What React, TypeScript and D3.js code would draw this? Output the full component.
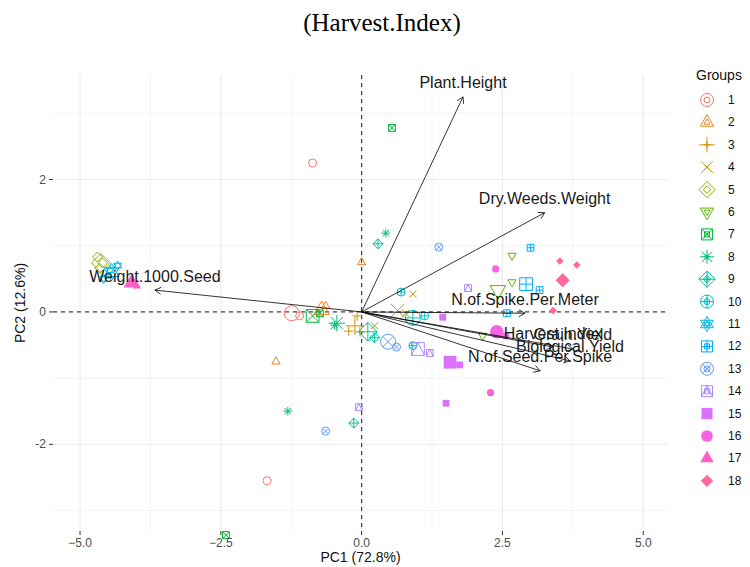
import React from 'react';
import * as d3 from 'd3';

// groups (legend order) and their colours / point shapes
const groups = ['1', '2', '3', '4', '5', '6', '7', '8', '9', '10', '11', '12', '13', '14', '15', '16', '17', '18'];
const groupColors = [
  '#F8766D', '#E88526', '#D39200', '#B79F00', '#93AA00', '#5EB300', '#00BA38', '#00BF74', '#00C19F',
  '#00BFC4', '#00B9E3', '#00ADFA', '#619CFF', '#AE87FF', '#DB72FB', '#F564E3', '#FF61C3', '#FF699C',
];

// individual scores (3 per group)
const indGroup = [
  1, 1, 1, 2, 2, 2, 3, 3, 3, 4, 4, 4, 5, 5, 5, 6, 6, 6, 7, 7, 7, 8, 8, 8, 9, 9, 9,
  10, 10, 10, 11, 11, 11, 12, 12, 12, 13, 13, 13, 14, 14, 14, 15, 15, 15, 16, 16, 16, 17, 17, 17, 18, 18, 18,
];
const indPC1 = [
  -0.87, -1.68, -1.1, 0.0, -1.52, -0.64, -0.08, -0.23, -0.03, 0.91, 0.23, 0.78, -4.69, -4.6, -4.65,
  2.67, 2.67, 2.15, 0.54, -2.41, -0.74, 0.43, -1.31, -0.48, 0.29, -0.14, 0.23, 0.7, 0.91, 1.12,
  -4.47, -4.33, -4.58, 3.0, 3.16, 2.58, 1.37, -0.64, 0.62, 1.89, -0.05, 1.21, 1.44, 1.5, 1.74,
  2.38, 2.29, 2.56, -4.15, -3.99, -4.1, 3.52, 3.82, 3.4,
];
const indPC2 = [
  2.25, -2.55, -0.06, 0.75, -0.75, 0.09, -0.06, -0.29, -0.3, 0.27, -0.21, -0.02, 0.83, 0.74, 0.66,
  0.85, 0.45, -0.36, 2.78, -3.37, -0.02, 1.19, -1.5, -0.2, 1.03, -1.68, -0.39, 0.3, -0.51, -0.06,
  0.63, 0.7, 0.5, 0.97, 0.33, -0.02, 0.98, -1.8, -0.53, 0.36, -1.44, -0.62, -0.08, -1.38, -0.8,
  0.65, -1.22, -0.36, 0.41, 0.39, 0.48, 0.77, 0.71, 0.02,
];

// group mean points
const meanPC1 = [-1.24, -0.71, -0.12, 0.64, -4.63, 2.42, -0.87, -0.44, 0.11, 0.91, -4.44, 2.92, 0.47, 1.0, 1.57, 2.4, -4.08, 3.57];
const meanPC2 = [-0.02, 0.03, -0.21, 0.02, 0.74, 0.33, -0.06, -0.17, -0.3, -0.09, 0.6, 0.42, -0.45, -0.56, -0.76, -0.3, 0.44, 0.48];

// variable loadings
const varNames = [
  'Plant.Height', 'Dry.Weeds.Weight', 'Weight.1000.Seed', 'N.of.Spike.Per.Meter',
  'Harvest.Index', 'Grain.Yield', 'Biological.Yield', 'N.of.Seed.Per.Spike',
];
const varPC1 = [1.8, 3.25, -3.67, 2.9, 3.4, 3.75, 3.7, 3.17];
const varPC2 = [3.25, 1.5, 0.33, -0.02, -0.53, -0.56, -0.74, -0.89];

const xTicks = [-5, -2.5, 0, 2.5, 5];
const xMinor = [-3.75, -1.25, 1.25, 3.75];
const yTicks = [-2, 0, 2];
const yMinor = [-3, -1, 1, 3];

const font = "'Liberation Sans', Arial, sans-serif";

const Shape = ({ pch, cx, cy, s, color }: { pch: number; cx: number; cy: number; s: number; color: string }) => {
  const r = s / 2;
  const st = { fill: 'none', stroke: color, strokeWidth: 1 };
  const fl = { fill: color, stroke: 'none' };
  const tri = (rho: number, dir: number) => {
    const h = (rho * Math.sqrt(3)) / 2;
    return `M${cx},${cy - dir * rho} L${cx + h},${cy + (dir * rho) / 2} L${cx - h},${cy + (dir * rho) / 2} Z`;
  };
  const diamond = (d: number) => `M${cx},${cy - d} L${cx + d},${cy} L${cx},${cy + d} L${cx - d},${cy} Z`;
  const plus = (d: number) => `M${cx - d},${cy} L${cx + d},${cy} M${cx},${cy - d} L${cx},${cy + d}`;
  const cross = (d: number) => `M${cx - d},${cy - d} L${cx + d},${cy + d} M${cx - d},${cy + d} L${cx + d},${cy - d}`;
  const ring = `M${cx - r},${cy} a${r},${r} 0 1,0 ${2 * r},0 a${r},${r} 0 1,0 ${-2 * r},0 `;
  const a = r * 0.85;
  const sq = `M${cx - a},${cy - a}h${2 * a}v${2 * a}h${-2 * a}Z `;
  switch (pch) {
    case 1:
      return <circle cx={cx} cy={cy} r={r} {...st} />;
    case 2:
      return <path d={tri(r * 1.2, 1)} {...st} />;
    case 3:
      return <path d={plus(r * 1.2)} {...st} />;
    case 4:
      return <path d={cross(r * 0.9)} {...st} />;
    case 5:
      return <path d={diamond(r * 1.25)} {...st} />;
    case 6:
      return <path d={tri(r * 1.2, -1)} {...st} />;
    case 7:
      return <path d={sq + cross(a)} {...st} />;
    case 8:
      return <path d={plus(r * 1.1) + ' ' + cross(r * 0.8)} {...st} />;
    case 9:
      return <path d={diamond(r * 1.25) + ' ' + plus(r * 1.25)} {...st} />;
    case 10:
      return <path d={ring + plus(r)} {...st} />;
    case 11:
      return <path d={tri(r * 1.15, 1) + ' ' + tri(r * 1.15, -1)} {...st} />;
    case 12:
      return <path d={sq + plus(a)} {...st} />;
    case 13:
      return <path d={ring + cross(r * 0.707)} {...st} />;
    case 14:
      return <path d={sq + `M${cx - a},${cy + a} L${cx},${cy - a} L${cx + a},${cy + a}`} {...st} />;
    case 15:
      return <rect x={cx - a} y={cy - a} width={2 * a} height={2 * a} {...fl} />;
    case 16:
      return <circle cx={cx} cy={cy} r={r * 0.9} {...fl} />;
    case 17:
      return <path d={tri(r * 1.2, 1)} {...fl} />;
    default:
      return <path d={diamond(r * 0.95)} {...fl} />;
  }
};

const App = () => {
  const width = 750;
  const height = 567;
  const x = d3.scaleLinear().domain([-5.48, 5.44]).range([53, 668]);
  const y = d3.scaleLinear().domain([-3.31, 3.58]).range([531, 75]);
  const [left, right] = x.range();
  const [bottom, top] = y.range();
  const small = 8;
  const big = 15;

  return (
    <svg width={width} height={height} style={{ position: 'absolute', left: 0, top: 0, background: '#fff' }}>
      {/* grid */}
      {xMinor.map((t) => (
        <line key={'xm' + t} x1={x(t)} x2={x(t)} y1={top} y2={bottom} stroke="#EBEBEB" strokeWidth={0.6} />
      ))}
      {yMinor.map((t) => (
        <line key={'ym' + t} x1={left} x2={right} y1={y(t)} y2={y(t)} stroke="#EBEBEB" strokeWidth={0.6} />
      ))}
      {xTicks.map((t) => (
        <line key={'xg' + t} x1={x(t)} x2={x(t)} y1={top} y2={bottom} stroke="#EBEBEB" strokeWidth={1.1} />
      ))}
      {yTicks.map((t) => (
        <line key={'yg' + t} x1={left} x2={right} y1={y(t)} y2={y(t)} stroke="#EBEBEB" strokeWidth={1.1} />
      ))}

      {/* reference lines */}
      <line x1={x(0)} x2={x(0)} y1={top} y2={bottom} stroke="#444" strokeWidth={1.2} strokeDasharray="4,4" />
      <line x1={left} x2={right} y1={y(0)} y2={y(0)} stroke="#444" strokeWidth={1.2} strokeDasharray="4,4" />

      {/* individuals */}
      {indGroup.map((g, i) => (
        <Shape key={'ind' + i} pch={g} cx={x(indPC1[i])} cy={y(indPC2[i])} s={small} color={groupColors[g - 1]} />
      ))}
      {/* group means */}
      {groups.map((g, i) => (
        <Shape key={'mean' + g} pch={i + 1} cx={x(meanPC1[i])} cy={y(meanPC2[i])} s={big} color={groupColors[i]} />
      ))}

      {/* variable arrows */}
      {varNames.map((v, i) => {
        const x0 = x(0);
        const y0 = y(0);
        const x1 = x(varPC1[i]);
        const y1 = y(varPC2[i]);
        const ang = Math.atan2(y1 - y0, x1 - x0);
        const L = 7;
        const a1 = ang + Math.PI - Math.PI / 6;
        const a2 = ang + Math.PI + Math.PI / 6;
        return (
          <g key={v}>
            <line x1={x0} y1={y0} x2={x1} y2={y1} stroke="#000" strokeWidth={0.8} />
            <path
              d={`M${x1 + L * Math.cos(a1)},${y1 + L * Math.sin(a1)} L${x1},${y1} L${x1 + L * Math.cos(a2)},${y1 + L * Math.sin(a2)}`}
              fill="none"
              stroke="#000"
              strokeWidth={0.8}
            />
          </g>
        );
      })}
      {varNames.map((v, i) => (
        <text
          key={'lab' + v}
          x={x(varPC1[i])}
          y={y(varPC2[i]) - 14}
          textAnchor="middle"
          dominantBaseline="central"
          fontFamily={font}
          fontSize={16}
          fill="#1a1a1a"
        >
          {v}
        </text>
      ))}

      {/* axes */}
      {xTicks.map((t) => (
        <g key={'xt' + t}>
          <line x1={x(t)} x2={x(t)} y1={bottom} y2={bottom + 4} stroke="#333" strokeWidth={1} />
          <text x={x(t)} y={bottom + 12} textAnchor="middle" dominantBaseline="central" fontFamily={font} fontSize={12} fill="#4D4D4D">
            {d3.format('.1f')(t)}
          </text>
        </g>
      ))}
      {yTicks.map((t) => (
        <g key={'yt' + t}>
          <line x1={left - 4} x2={left} y1={y(t)} y2={y(t)} stroke="#333" strokeWidth={1} />
          <text x={left - 7} y={y(t)} textAnchor="end" dominantBaseline="central" fontFamily={font} fontSize={12} fill="#4D4D4D">
            {t}
          </text>
        </g>
      ))}
      <text x={(left + right) / 2} y={557} textAnchor="middle" dominantBaseline="central" fontFamily={font} fontSize={14} fill="#111">
        PC1 (72.8%)
      </text>
      <text
        transform={`translate(20,${(top + bottom) / 2}) rotate(-90)`}
        textAnchor="middle"
        dominantBaseline="central"
        fontFamily={font}
        fontSize={14}
        fill="#111"
      >
        PC2 (12.6%)
      </text>

      {/* title */}
      <text x={382} y={22} textAnchor="middle" dominantBaseline="central" fontFamily="'Liberation Serif', 'Times New Roman', serif" fontSize={25} fill="#000">
        (Harvest.Index)
      </text>

      {/* legend */}
      <text x={696} y={75} dominantBaseline="central" fontFamily={font} fontSize={14} fill="#111">
        Groups
      </text>
      {groups.map((g, i) => {
        const cy = 100 + i * 22.4;
        return (
          <g key={'leg' + g}>
            <Shape pch={i + 1} cx={707} cy={cy} s={13} color={groupColors[i]} />
            <Shape pch={i + 1} cx={707} cy={cy} s={6} color={groupColors[i]} />
            <text x={728} y={cy} dominantBaseline="central" fontFamily={font} fontSize={12} fill="#111">
              {g}
            </text>
          </g>
        );
      })}
    </svg>
  );
};

export default App;
